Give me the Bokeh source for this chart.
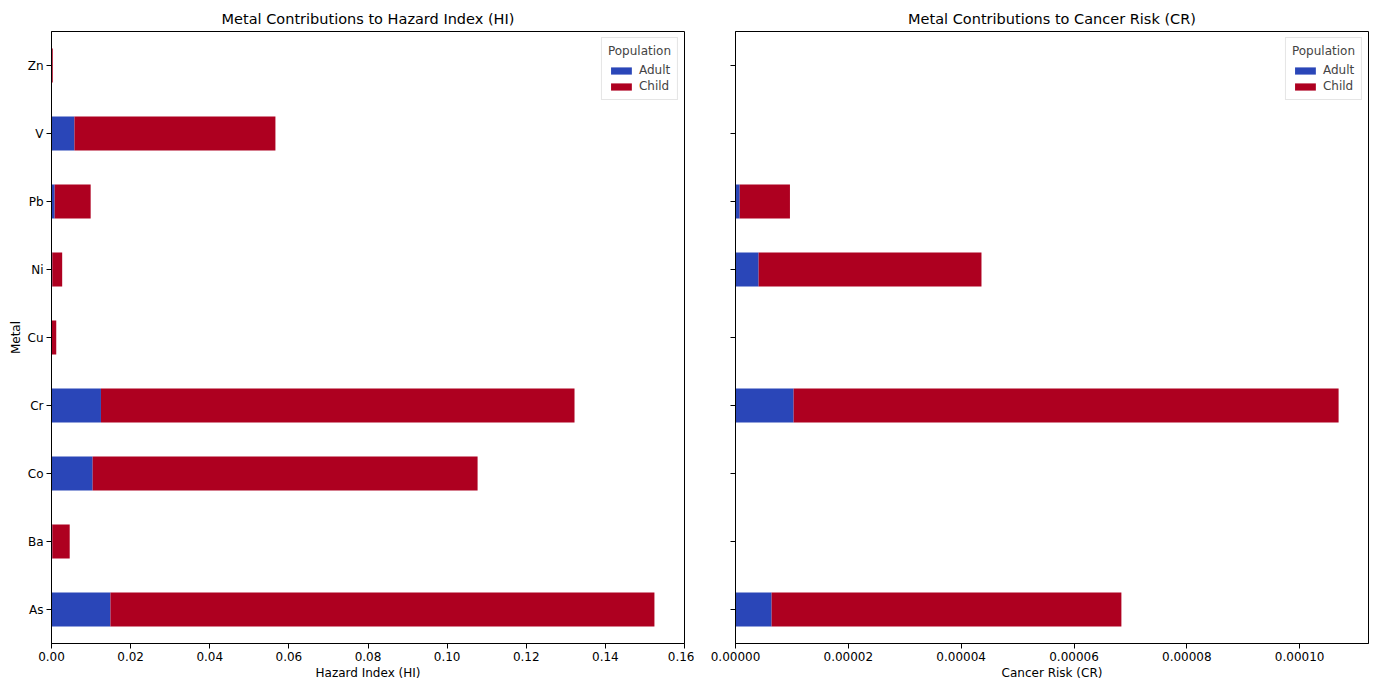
from bokeh.plotting import figure
from bokeh.layouts import row
from bokeh.models import (ColumnDataSource, FactorRange, Range1d, FixedTicker,
                          PrintfTickFormatter, CustomJSTickFormatter)
from bokeh.embed import file_html
from bokeh.resources import INLINE

metals = ["As", "Ba", "Co", "Cr", "Cu", "Ni", "Pb", "V", "Zn"]
populations = ["Adult", "Child"]
hi_adult = [0.0149, 0.0002, 0.0104, 0.0125, 0.0001, 0.0002, 0.0008, 0.0058, 0.00002]
hi_child = [0.1375, 0.0044, 0.0973, 0.1197, 0.0011, 0.0025, 0.0091, 0.0508, 0.0003]
cr_adult = [6.4e-6, 0, 0, 1.03e-5, 0, 4.1e-6, 0.75e-6, 0, 0]
cr_child = [6.2e-5, 0, 0, 9.66e-5, 0, 3.95e-5, 8.9e-6, 0, 0]
hi_ticks = [0.0, 0.02, 0.04, 0.06, 0.08, 0.10, 0.12, 0.14, 0.16]
cr_ticks = [0.0, 0.00002, 0.00004, 0.00006, 0.00008, 0.00010]

colors = ["#2a46b8", "#ae0020"]
FONT = "DejaVu Sans"


def make_fig(title, adult, child, xmax, ticks, fmt, xlabel, ylabel, show_ylabels, mb_left, mb_right):
    src = ColumnDataSource(dict(metal=metals, Adult=adult, Child=child))
    p = figure(y_range=FactorRange(factors=metals, range_padding=0),
               x_range=Range1d(0, xmax),
               frame_width=633, frame_height=612,
               min_border_left=mb_left, min_border_right=mb_right,
               min_border_top=31, min_border_bottom=38,
               output_backend="svg", toolbar_location=None, title=title)
    p.hbar_stack(populations, y="metal", height=0.5, color=colors, source=src,
                 line_color=None, legend_label=populations)
    p.title.align = "center"
    p.title.text_font = FONT
    p.title.text_font_size = "14.5px"
    p.title.text_font_style = "normal"
    p.title.text_color = "#000000"
    p.xgrid.visible = False
    p.ygrid.visible = False
    p.outline_line_color = "#000000"
    p.outline_line_width = 1
    p.xaxis.ticker = FixedTicker(ticks=ticks)
    p.xaxis.formatter = PrintfTickFormatter(format=fmt)
    p.xaxis.axis_label = xlabel
    p.yaxis.axis_label = ylabel
    for ax in (p.xaxis[0], p.yaxis[0]):
        ax.axis_line_color = "#000000"
        ax.major_tick_line_color = "#000000"
        ax.major_tick_out = 5
        ax.major_tick_in = 0
        ax.minor_tick_line_color = None
        ax.major_label_text_font = FONT
        ax.major_label_text_font_size = "12px"
        ax.major_label_text_color = "#000000"
        ax.axis_label_text_font = FONT
        ax.axis_label_text_font_size = "12px"
        ax.axis_label_text_font_style = "normal"
        ax.axis_label_text_color = "#000000"
        ax.axis_label_standoff = 2
        ax.major_label_standoff = 3
    if not show_ylabels:
        p.yaxis.formatter = CustomJSTickFormatter(code="return '';")
    p.legend.location = "top_right"
    p.legend.title = "Population"
    p.legend.title_text_font = FONT
    p.legend.title_text_font_size = "12px"
    p.legend.title_text_font_style = "normal"
    p.legend.label_text_font = FONT
    p.legend.label_text_font_size = "12px"
    p.legend.glyph_width = 26
    p.legend.glyph_height = 9
    p.legend.label_height = 12
    p.legend.spacing = 2
    p.legend.padding = 6
    p.legend.margin = 6
    p.legend.border_line_color = "#cccccc"
    p.legend.background_fill_alpha = 0.8
    return p


p1 = make_fig("Metal Contributions to Hazard Index (HI)", hi_adult, hi_child, 0.16,
              hi_ticks, "%.2f", "Hazard Index (HI)", "Metal", True, 51, 10)
p2 = make_fig("Metal Contributions to Cancer Risk (CR)", cr_adult, cr_child, 0.0001122,
              cr_ticks, "%.5f", "Cancer Risk (CR)", None, False, 41, 10)

layout = row(p1, p2)
open("out.html", "w").write(file_html(layout, INLINE))
